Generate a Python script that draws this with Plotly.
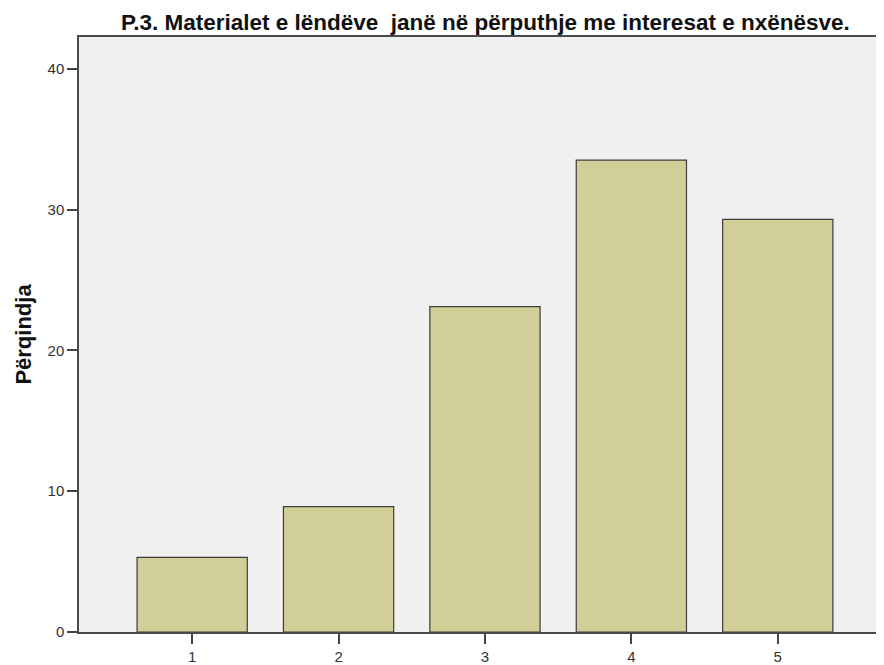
import plotly.graph_objects as go

# Frequency chart values (percent per answer category)
categories = ["1", "2", "3", "4", "5"]
percent = [5.3, 8.9, 23.1, 33.5, 29.3]
y_ticks = [0, 10, 20, 30, 40]

TITLE = "P.3. Materialet e lëndëve  janë në përputhje me interesat e nxënësve."

# page body has an 8px margin, so the figure is sized/offset for that
W, H = 876, 657

fig = go.Figure()
fig.add_trace(
    go.Bar(
        x=[int(c) for c in categories],
        y=percent,
        width=0.753,
        marker=dict(color="#D2CE97", line=dict(color="#3c3c3c", width=1.2)),
        hovertemplate="%{x}: %{y:.1f}%<extra></extra>",
    )
)

fig.update_layout(
    width=W,
    height=H,
    margin=dict(l=71, r=0, t=29, b=31),
    paper_bgcolor="white",
    plot_bgcolor="#F0F0F0",
    showlegend=False,
    font=dict(family="Liberation Sans, Arial, sans-serif", color="#333333"),
    title=dict(
        text=f"<b>{TITLE}</b>",
        x=0.545,
        xanchor="center",
        y=0.979,
        yanchor="middle",
        font=dict(size=22.5, color="#111111"),
    ),
    xaxis=dict(
        range=[0.227, 5.712],
        tickvals=[int(c) for c in categories],
        ticktext=categories,
        ticks="outside",
        ticklen=10,
        tickwidth=1.5,
        tickcolor="#444444",
        showline=True,
        linecolor="#4a4a4a",
        linewidth=1.5,
        mirror=True,
        showgrid=False,
        zeroline=False,
        tickfont=dict(size=15),
        fixedrange=True,
    ),
    yaxis=dict(
        range=[0, 42.25],
        tickvals=y_ticks,
        ticks="outside",
        ticklen=10,
        tickwidth=1.5,
        tickcolor="#444444",
        showline=True,
        linecolor="#4a4a4a",
        linewidth=1.5,
        mirror=True,
        showgrid=False,
        zeroline=False,
        tickfont=dict(size=15),
        title=dict(
            text="<b>Përqindja</b>",
            font=dict(size=22, color="#111111"),
            standoff=10,
        ),
        fixedrange=True,
    ),
)

fig.write_html("out.html")
